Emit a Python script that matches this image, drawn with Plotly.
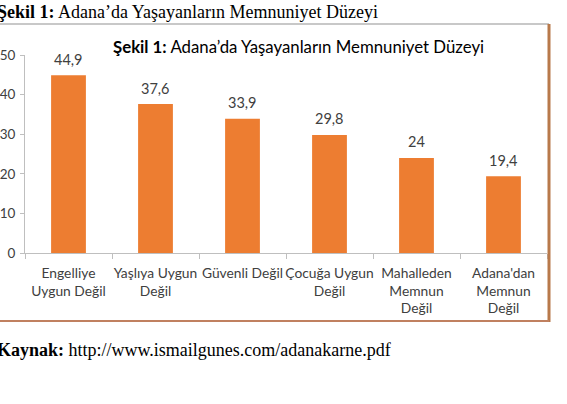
import plotly.graph_objects as go

categories = ["Engelliye<br>Uygun Değil", "Yaşlıya Uygun<br>Değil", "Güvenli Değil",
              "Çocuğa Uygun<br>Değil", "Mahalleden<br>Memnun<br>Değil", "Adana'dan<br>Memnun<br>Değil"]
values = [44.9, 37.6, 33.9, 29.8, 24, 19.4]
value_labels = [("%g" % v).replace(".", ",") for v in values]
y_ticks = [0, 10, 20, 30, 40, 50]

W, H = 567, 404
ML, MR, MT, MB = 25, 20, 55, 151
PW, PH = W - ML - MR, H - MT - MB

def px(x):
    return (x - ML) / PW

def py(y):
    return (H - MB - y) / PH

chart_font = "Lato, Calibri, Carlito, sans-serif"
serif = "Liberation Serif, Times New Roman, serif"
txt = "#404040"

fig = go.Figure()
fig.add_trace(go.Bar(x=categories, y=values, marker=dict(color="#ED7D31", line=dict(width=0)),
                     hoverinfo="skip"))

for c, v, lab in zip(categories, values, value_labels):
    fig.add_annotation(x=c, y=v, text=lab, showarrow=False, yshift=16,
                       font=dict(family=chart_font, size=14.5, color=txt))

# chart title inside box
fig.add_annotation(xref="paper", yref="paper", x=px(298), y=py(47), xanchor="center", yanchor="middle",
                   text="<b>Şekil 1:</b> Adana’da Yaşayanların Memnuniyet Düzeyi", showarrow=False,
                   font=dict(family=chart_font, size=16.8, color="#000000"))

# document texts
fig.add_annotation(xref="paper", yref="paper", x=px(-5), y=py(12), xanchor="left", yanchor="middle",
                   text="<b>Şekil 1:</b> Adana’da Yaşayanların Memnuniyet Düzeyi", showarrow=False,
                   font=dict(family=serif, size=18, color="#000000"))
fig.add_annotation(xref="paper", yref="paper", x=px(-5), y=py(350), xanchor="left", yanchor="middle",
                   text="<b>Kaynak:</b> http://www.ismailgunes.com/adanakarne.pdf", showarrow=False,
                   font=dict(family=serif, size=18, color="#000000"))

# chart box borders
fig.add_shape(type="line", xref="paper", yref="paper", x0=px(0), x1=px(549), y0=py(24), y1=py(24),
              line=dict(color="#c8c8c8", width=2))
fig.add_shape(type="line", xref="paper", yref="paper", x0=px(549), x1=px(549), y0=py(24), y1=py(322),
              line=dict(color="#b8794a", width=3))
fig.add_shape(type="line", xref="paper", yref="paper", x0=px(0), x1=px(549), y0=py(321), y1=py(321),
              line=dict(color="#c08060", width=2))

fig.update_layout(
    width=W, height=H,
    margin=dict(l=ML, r=MR, t=MT, b=MB, autoexpand=False),
    paper_bgcolor="white", plot_bgcolor="white",
    bargap=0.6, showlegend=False,
    font=dict(family=chart_font, size=14, color=txt),
)
fig.update_xaxes(showline=True, linecolor="#bfbfbf", linewidth=1, ticks="outside", tickson="boundaries",
                 ticklen=5, tickcolor="#bfbfbf", showgrid=False, tickangle=0, automargin=False,
                 ticklabelstandoff=7,
                 tickfont=dict(family=chart_font, size=13.8, color=txt), fixedrange=True)
fig.update_yaxes(range=[0, 50], tickvals=y_ticks, showline=True, linecolor="#bfbfbf", linewidth=1,
                 ticks="outside", ticklen=4, tickcolor="#bfbfbf", showgrid=False, zeroline=False,
                 automargin=False, ticklabelstandoff=2,
                 tickfont=dict(family=chart_font, size=13.5, color=txt), fixedrange=True)

fig.write_html("out.html", config={"displayModeBar": False})
